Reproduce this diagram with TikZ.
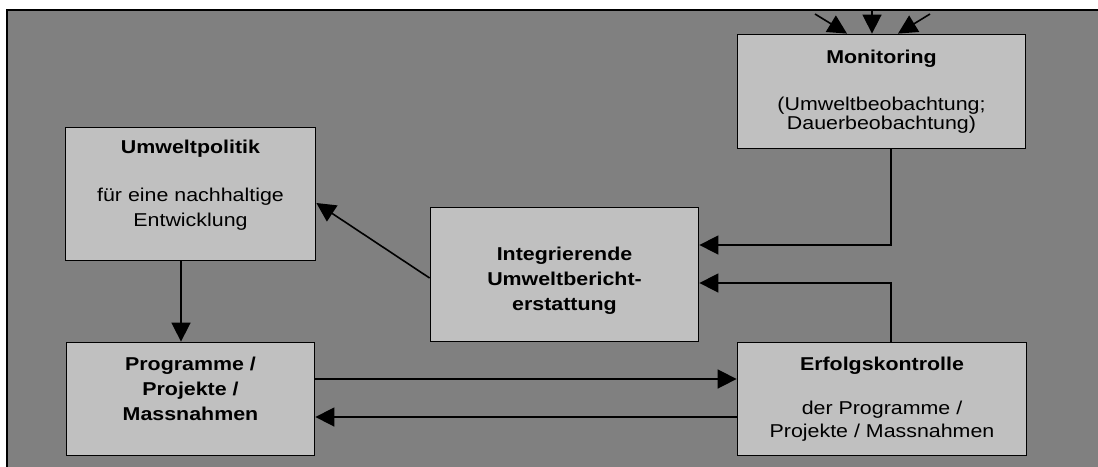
\documentclass[tikz,border=0pt]{standalone}
\usepackage{fontspec}
\setmainfont[FakeStretch=1.15]{Liberation Sans}
\usepackage{tikz}
\usetikzlibrary{arrows.meta}

\definecolor{boxgray}{HTML}{C0C0C0}
\definecolor{bggray}{HTML}{808080}

\begin{document}
\begin{tikzpicture}[x=1pt,y=-1pt,
    box/.style={draw,line width=1.8pt,fill=boxgray,inner sep=0pt,align=center,
      font=\fontsize{18.6}{25}\selectfont},
    arr/.style={line width=1.6pt,-{Triangle[length=19pt,width=19pt]}}]
   \useasboundingbox (0,0) rectangle (1098,466);

   % background frame
   \fill[bggray] (7,10) rectangle (1110,480);
   \draw[line width=1.8pt] (7,480) -- (7,10) -- (1110,10);

   \node[box,minimum width=288pt,minimum height=114pt] (mon) at (881.5,91.5)
     {\textbf{Monitoring}\\[22pt] (Umweltbeobachtung;\\[-6pt] Dauerbeobachtung)};
   \node[box,minimum width=250pt,minimum height=133pt] (pol) at (190.5,194)
     {\textbf{Umweltpolitik}\\[23pt] für eine nachhaltige\\ Entwicklung\rule[-22pt]{0pt}{0pt}};
   \node[box,minimum width=268pt,minimum height=134pt,font=\fontsize{18.6}{25}\selectfont\bfseries] (int) at (564.5,274.5)
     {\rule{0pt}{25pt}Integrierende\\ Umweltbericht-\\ erstattung};
   \node[box,minimum width=248pt,minimum height=113pt,font=\fontsize{18.6}{25}\selectfont\bfseries] (prog) at (190.5,399)
     {Programme /\\ Projekte /\\ Massnahmen\rule[-20pt]{0pt}{0pt}};
   \node[box,minimum width=289pt,minimum height=113pt] (erf) at (882,399)
     {\textbf{Erfolgskontrolle}\\[19pt] der Programme /\\[-2pt] Projekte / Massnahmen};

   % inputs from outside
   \coordinate (inL) at (815,14);
   \coordinate (inM) at (872,10);
   \coordinate (inR) at (930,14);
   \draw[arr] (inL) -- ([xshift=-34.5pt]mon.north);
   \draw[arr] (inM) -- ([xshift=-9.5pt]mon.north);
   \draw[arr] (inR) -- ([xshift=16.5pt]mon.north);

   \draw[arr] ([xshift=9.5pt]mon.south) |- ([yshift=29.5pt]int.east);
   \draw[arr] ([xshift=9pt]erf.north) |- ([yshift=-8.5pt]int.east);
   \draw[arr] ([yshift=-3.5pt]int.west) -- ([yshift=-9pt]pol.east);
   \draw[arr] ([xshift=-9.5pt]pol.south) -- ([xshift=-9.5pt]prog.north);
   \draw[arr] ([yshift=20pt]prog.east) -- ([yshift=20pt]erf.west);
   \draw[arr] ([yshift=-18pt]erf.west) -- ([yshift=-18pt]prog.east);
\end{tikzpicture}
\end{document}
